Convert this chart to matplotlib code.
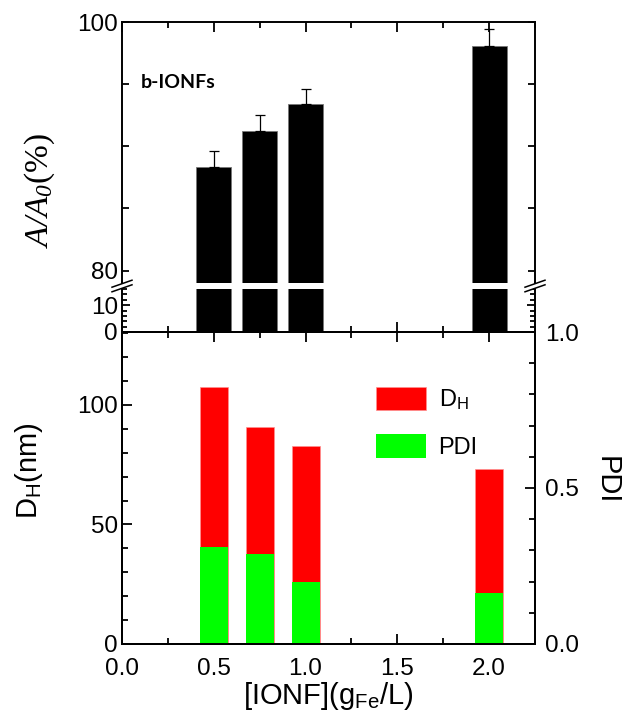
import matplotlib
matplotlib.use('Agg')
import matplotlib.pyplot as plt
from matplotlib.lines import Line2D
from matplotlib.patches import Patch, Polygon
from matplotlib.ticker import MultipleLocator, FixedLocator, FormatStrFormatter

# data
conc = [0.5, 0.75, 1.0, 2.0]          # [IONF] (g_Fe/L)
area_ratio = [88.3, 91.2, 93.4, 98.1]  # A/A0 (%)
area_err = [1.3, 1.3, 1.2, 1.3]
dh_nm = [107.4, 90.6, 82.7, 73.2]      # D_H (nm)
pdi = [0.31, 0.29, 0.20, 0.165]
x_ticks = [0.0, 0.5, 1.0, 1.5, 2.0]

plt.rcParams['font.family'] = 'Liberation Sans'
plt.rcParams['mathtext.fontset'] = 'custom'
plt.rcParams['mathtext.rm'] = 'Liberation Serif:italic'
plt.rcParams['mathtext.it'] = 'Liberation Serif:italic'
plt.rcParams['mathtext.sf'] = 'Liberation Sans'
plt.rcParams['font.size'] = 17.5
plt.rcParams['axes.linewidth'] = 1.4

W, H = 622, 715
fig = plt.figure(figsize=(W / 100, H / 100), dpi=100)


def frame(l, t, r, b):
    return fig.add_axes([l / W, 1 - b / H, (r - l) / W, (b - t) / H])


ax_hi = frame(122, 22, 535, 283)
ax_lo = frame(122, 289, 535, 332)
ax_b = frame(122, 332, 535, 644)
ax_r = ax_b.twinx()

for ax in (ax_hi, ax_lo, ax_b, ax_r):
    ax.set_xlim(0, 2.25)
    ax.xaxis.set_major_locator(MultipleLocator(0.5))
    ax.xaxis.set_minor_locator(MultipleLocator(0.25))
    ax.tick_params(which='both', direction='in', width=1.3)
    ax.tick_params(which='major', length=7)
    ax.tick_params(which='minor', length=4.5)

# top panel, broken axis
for ax in (ax_hi, ax_lo):
    ax.bar(conc, area_ratio, width=0.19, color='black', edgecolor='#777777', linewidth=0.6)

ax_hi.errorbar(conc, area_ratio, yerr=[[0] * len(conc), area_err], fmt='none',
               ecolor='black', elinewidth=0.9, capsize=3.5, capthick=0.9)
ax_hi.set_ylim(79, 100)
ax_hi.spines['bottom'].set_visible(False)
ax_hi.yaxis.set_major_locator(FixedLocator([80, 85, 90, 95, 100]))
ax_hi.set_yticklabels(['80', '', '', '', '100'])
ax_hi.tick_params(axis='y', which='major', length=5, left=True, right=True, pad=3)
ax_hi.tick_params(axis='x', which='both', bottom=False, top=True, labelbottom=False)
ax_hi.text(0.1, 95.1, 'b-IONFs', fontfamily='Lato', fontweight='bold', fontsize=14,
           va='center', ha='left')

ax_lo.set_ylim(0, 16)
ax_lo.spines['top'].set_visible(False)
ax_lo.yaxis.set_major_locator(FixedLocator([0, 10]))
ax_lo.yaxis.set_minor_locator(MultipleLocator(2))
ax_lo.tick_params(axis='y', which='both', left=True, right=True, pad=3)
ax_lo.tick_params(axis='y', which='major', length=6)
ax_lo.tick_params(axis='y', which='minor', length=3.5)
ax_lo.tick_params(axis='x', which='both', bottom=True, top=False, labelbottom=False)

# break marks
for cx in (122, 535):
    off = 2.3
    pts = [(cx - 10, 286 + 3.5 - off), (cx + 10, 286 - 3.5 - off),
           (cx + 10, 286 - 3.5 + off), (cx - 10, 286 + 3.5 + off)]
    fig.patches.append(Polygon([(x / W, 1 - y / H) for x, y in pts], closed=True,
                               transform=fig.transFigure, facecolor='white',
                               edgecolor='none', zorder=5))
    for s in (-off, off):
        fig.lines.append(Line2D([(cx - 10) / W, (cx + 10) / W],
                                [1 - (286 + 3.5 + s) / H, 1 - (286 - 3.5 + s) / H],
                                transform=fig.transFigure, color='black', lw=1.1, zorder=6))

# bottom panel
ax_b.bar(conc, dh_nm, width=0.153, color='#ff0000', edgecolor='#ff9090', linewidth=0.5)
ax_r.bar(conc, pdi, width=0.153, color='#00ff00', edgecolor='none')
ax_b.set_ylim(0, 130.5)
ax_b.yaxis.set_major_locator(MultipleLocator(50))
ax_b.yaxis.set_minor_locator(MultipleLocator(10))
ax_b.set_xticks(x_ticks)
ax_b.xaxis.set_major_formatter(FormatStrFormatter('%.1f'))
ax_b.tick_params(axis='x', which='both', bottom=True, top=True, pad=10)
ax_b.tick_params(axis='y', which='both', left=True, right=False, pad=3)
ax_r.set_ylim(0, 1.0)
ax_r.yaxis.set_major_locator(MultipleLocator(0.5))
ax_r.yaxis.set_minor_locator(MultipleLocator(0.1))
ax_r.yaxis.set_major_formatter(FormatStrFormatter('%.1f'))
ax_r.tick_params(axis='y', which='both', pad=7)
ax_r.tick_params(axis='x', which='both', bottom=False, top=False, labelbottom=False)

fig.legend(handles=[Patch(facecolor='#ff0000', edgecolor='#ff9090', linewidth=0.5),
                    Patch(facecolor='#00ff00', edgecolor='none')],
           labels=[r'D$_\mathsf{H}$', 'PDI'], loc='upper left',
           bbox_to_anchor=(376 / W, 1 - 387 / H), frameon=False, borderpad=0,
           borderaxespad=0, fontsize=17, handlelength=2.1, handleheight=1.15,
           handletextpad=0.55, labelspacing=0.95)

# axis titles
fig.text(40 / W, 1 - 191 / H, r'$A/A_0$(%)', fontfamily='Liberation Serif',
         fontsize=24, rotation=90, ha='center', va='center')
fig.text(29 / W, 1 - 471 / H, r'D$_\mathsf{H}$(nm)', fontsize=21, rotation=90,
         ha='center', va='center')
fig.text(607 / W, 1 - 480 / H, 'PDI', fontsize=21, rotation=270, ha='center', va='center')
fig.text(328 / W, 1 - 704 / H, r'[IONF](g$_\mathsf{Fe}$/L)', fontsize=21,
         ha='center', va='baseline')

fig.savefig('out.png', dpi=100)
